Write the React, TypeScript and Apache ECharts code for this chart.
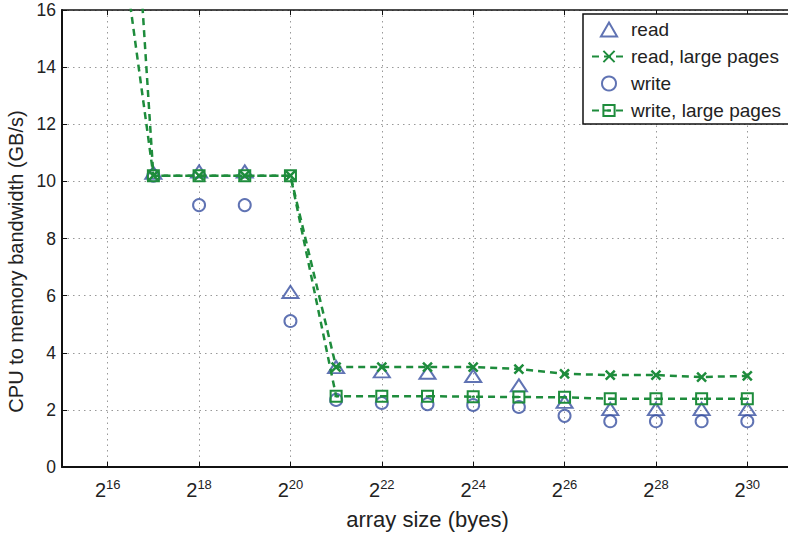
import React, { useEffect, useRef } from "react";
import * as echarts from "echarts";

// exponents of 2 (array size = 2^n bytes)
const categories = ["15","16","17","18","19","20","21","22","23","24","25","26","27","28","29","30","31"];
const exps = [17, 18, 19, 20, 21, 22, 23, 24, 25, 26, 27, 28, 29, 30];
const readVals = [10.3, 10.35, 10.35, 6.13, 3.5, 3.35, 3.3, 3.19, 2.86, 2.28, 2.03, 2.03, 2.03, 2.03];
const writeVals = [10.2, 9.17, 9.17, 5.11, 2.35, 2.24, 2.2, 2.17, 2.1, 1.79, 1.6, 1.6, 1.6, 1.6];
const lpExps = [16, 17, 18, 19, 20, 21, 22, 23, 24, 25, 26, 27, 28, 29, 30];
const readLargeVals = [22, 10.2, 10.2, 10.2, 10.2, 3.5, 3.5, 3.5, 3.5, 3.43, 3.26, 3.22, 3.22, 3.15, 3.19];
const writeLargeVals = [35, 10.2, 10.2, 10.2, 10.2, 2.48, 2.48, 2.48, 2.46, 2.45, 2.44, 2.39, 2.39, 2.39, 2.39];
const yTicks = { min: 0, max: 16, step: 2 };

const BLUE = "#3850a0";
const GREEN = "#1e8c3c";
const FONT = "'Liberation Sans', Helvetica, Arial, sans-serif";

const evenOnly = (index: number, value: string) => Number(value) % 2 === 0;

export default function App() {
  const ref = useRef<HTMLDivElement>(null);
  useEffect(() => {
    if (!ref.current) return;
    const chart = echarts.init(ref.current, null, { renderer: "svg" });
    const pair = (xs: number[], ys: number[]) =>
      xs.map((x, i) => (x < 17 ? { value: [String(x), ys[i]], symbol: "none" } : [String(x), ys[i]]));
    chart.setOption({
      animation: false,
      textStyle: { fontFamily: FONT },
      grid: { left: 62, right: -5, top: 10, bottom: 66, containLabel: false, outerBoundsMode: "none" },
      legend: {
        orient: "vertical",
        left: 583,
        top: 14,
        padding: [6, 8, 4, 8],
        itemGap: 8,
        itemWidth: 34,
        itemHeight: 14,
        symbolKeepAspect: true,
        itemStyle: { borderWidth: 2 },
        backgroundColor: "#fff",
        borderColor: "#111",
        borderWidth: 1.5,
        borderRadius: 0,
        textStyle: { fontSize: 19, color: "#222", fontFamily: FONT },
        data: ["read", "read, large pages", "write", "write, large pages"],
      },
      xAxis: [
        {
          type: "category",
          data: categories,
          boundaryGap: false,
          name: "array size (byes)",
          nameLocation: "middle",
          nameGap: 41,
          nameTextStyle: { fontSize: 22, color: "#222", fontFamily: FONT },
          axisLine: { lineStyle: { color: "#111", width: 2 } },
          axisTick: { inside: true, length: 5, interval: evenOnly, lineStyle: { color: "#111", width: 1 } },
          axisLabel: {
            interval: evenOnly,
            margin: 11,
            color: "#222",
            formatter: (v: string) => `{b|2}{s|${v}}`,
            rich: {
              b: { fontSize: 20, color: "#222", fontFamily: FONT },
              s: { fontSize: 13, color: "#222", fontFamily: FONT, padding: [0, 0, 11, 0] },
            },
          },
          splitLine: {
            show: true,
            interval: evenOnly,
            lineStyle: { color: "#999", type: [1.5, 4], width: 1 },
          },
        },
        {
          type: "category",
          data: categories,
          boundaryGap: false,
          position: "top",
          axisLine: { lineStyle: { color: "#111", width: 1.5 } },
          axisTick: { inside: true, length: 5, interval: evenOnly, lineStyle: { color: "#111", width: 1 } },
          axisLabel: { show: false },
          splitLine: { show: false },
        },
      ],
      yAxis: {
        type: "value",
        min: yTicks.min,
        max: yTicks.max,
        interval: yTicks.step,
        name: "CPU to memory bandwidth (GB/s)",
        nameLocation: "middle",
        nameGap: 35,
        nameTextStyle: { fontSize: 20, color: "#222", fontFamily: FONT, padding: [0, 46, 0, 0] },
        axisLine: { show: true, lineStyle: { color: "#111", width: 2 } },
        axisTick: { show: true, inside: true, length: 5, lineStyle: { color: "#111", width: 1 } },
        axisLabel: { fontSize: 17.5, color: "#222", margin: 6, fontFamily: FONT },
        splitLine: { show: true, lineStyle: { color: "#999", type: [1.5, 4], width: 1 } },
      },
      series: [
        {
          name: "read",
          type: "scatter",
          data: pair(exps, readVals),
          symbol: "path://M5,0L10,8.66L0,8.66Z",
          symbolSize: [16, 14],
          symbolKeepAspect: true,
          itemStyle: { color: "rgba(255,255,255,0)", borderColor: BLUE, borderWidth: 2 },
          z: 3,
        },
        {
          name: "read, large pages",
          type: "line",
          data: pair(lpExps, readLargeVals),
          symbol: "path://M0,0L10,10M10,0L0,10",
          symbolSize: 9,
          showAllSymbol: true,
          lineStyle: { color: GREEN, width: 2.5, type: [7, 5] },
          itemStyle: { color: "none", borderColor: GREEN, borderWidth: 2.5 },
          clip: true,
          z: 4,
        },
        {
          name: "write",
          type: "scatter",
          data: pair(exps, writeVals),
          symbol: "circle",
          symbolSize: 12,
          symbolKeepAspect: true,
          itemStyle: { color: "rgba(255,255,255,0)", borderColor: BLUE, borderWidth: 2 },
          z: 3,
        },
        {
          name: "write, large pages",
          type: "line",
          data: pair(lpExps, writeLargeVals),
          symbol: "path://M0,0H10V10H0Z M3.5,5H6.5",
          symbolSize: 11,
          showAllSymbol: true,
          lineStyle: { color: GREEN, width: 2.5, type: [7, 5] },
          itemStyle: { color: "none", borderColor: GREEN, borderWidth: 2 },
          clip: true,
          z: 4,
        },
      ],
    });
    return () => chart.dispose();
  }, []);
  return (
    <div
      ref={ref}
      style={{ position: "fixed", left: 0, top: 0, width: 788, height: 533, background: "#fff" }}
    />
  );
}
